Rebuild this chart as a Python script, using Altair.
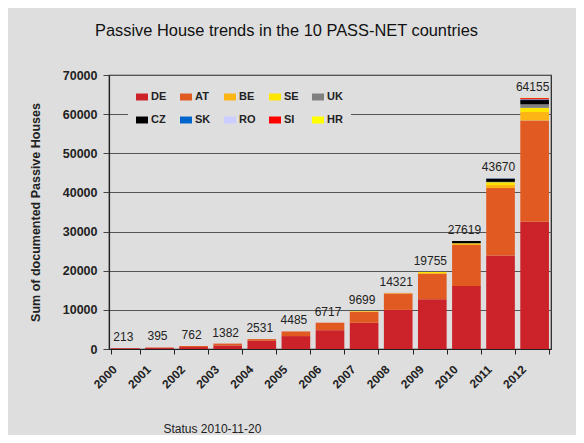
import altair as alt
import pandas as pd

years = [str(y) for y in range(2000, 2013)]
totals = [213, 395, 762, 1382, 2531, 4485, 6717, 9699, 14321, 19755, 27619, 43670, 64155]
countries = ["DE", "AT", "BE", "SE", "UK", "CZ", "SK", "RO", "SI", "HR"]
colors = ["#cc2229", "#e05a22", "#fdb515", "#ffe600", "#808080",
          "#000000", "#0066cc", "#ccccff", "#ff0000", "#ffff00"]

DE = [200, 300, 500, 900, 2100, 3300, 4800, 6700, 10000, 12700, 16100, 23870, 32500]
AT = [13, 95, 262, 482, 431, 1185, 1917, 2800, 4200, 6500, 10500, 17230, 25900]
BE = [0, 0, 0, 0, 0, 0, 0, 150, 60, 200, 300, 800, 2150]
SE = [0, 0, 0, 0, 0, 0, 0, 49, 40, 300, 100, 700, 1050]
UK = [0, 0, 0, 0, 0, 0, 0, 0, 0, 10, 20, 100, 900]
CZ = [0, 0, 0, 0, 0, 0, 0, 0, 0, 30, 550, 750, 1100]
SK = [0, 0, 0, 0, 0, 0, 0, 0, 0, 5, 30, 150, 150]
RO = [0, 0, 0, 0, 0, 0, 0, 0, 0, 0, 5, 20, 50]
SI = [0, 0, 0, 0, 0, 0, 0, 0, 21, 5, 10, 30, 300]
HR = [0, 0, 0, 0, 0, 0, 0, 0, 0, 5, 4, 20, 55]

series = [DE, AT, BE, SE, UK, CZ, SK, RO, SI, HR]
y_ticks = [0, 10000, 20000, 30000, 40000, 50000, 60000, 70000]

rows = []
for ci, (c, vals) in enumerate(zip(countries, series)):
    for y, v in zip(years, vals):
        rows.append({"year": y, "country": c, "idx": ci, "value": v})
df = pd.DataFrame(rows)
tdf = pd.DataFrame({"year": years, "total": totals, "label": [str(t) for t in totals]})

FONT = "Liberation Sans"
xscale = alt.Scale(domain=years, paddingInner=0.16, paddingOuter=0.06)
yscale = alt.Scale(domain=[0, 70000])

x_axis = alt.Axis(
    title="Status 2010-11-20", titleFont=FONT, titleFontSize=12, titleFontWeight="normal",
    titleColor="#222", titleAnchor="start", titleAlign="left", titleBaseline="middle",
    titleX=54, titleY=79,
    labelAngle=-45, labelAlign="right", labelBaseline="middle", labelFont=FONT,
    labelFontSize=12, labelFontWeight="bold", labelColor="#222", labelPadding=13, labelOffset=-11,
    tickBand="extent", tickSize=5, tickColor="#222", domainColor="#222", domainWidth=1.2)
y_axis = alt.Axis(
    values=y_ticks, format="d", labelOverlap=False, title="Sum of documented Passive Houses",
    titleFont=FONT, titleFontSize=12.5, titleFontWeight="bold", titleColor="#222", titlePadding=20,
    labelFont=FONT, labelFontSize=12.5, labelFontWeight="bold", labelColor="#222", labelPadding=6,
    tickSize=6, tickColor="#444", domainColor="#222", domainWidth=1.2,
    grid=True, gridColor="#555", gridWidth=1.2)

bars = alt.Chart(df).mark_bar().encode(
    x=alt.X("year:N", scale=xscale, axis=x_axis),
    y=alt.Y("value:Q", stack="zero", scale=yscale, axis=y_axis),
    color=alt.Color("country:N", scale=alt.Scale(domain=countries, range=colors), legend=alt.Legend(
        title=None, orient="none", legendX=19, legendY=8, direction="horizontal", columns=5,
        symbolType="M-1,-0.58H1V0.58H-1Z", symbolSize=144, symbolStrokeWidth=0, symbolOpacity=1,
        labelFont=FONT, labelFontSize=11, labelFontWeight="bold", labelColor="#222", labelOffset=3,
        rowPadding=12, columnPadding=13, padding=8, fillColor="#dedede")),
    order=alt.Order("idx:Q", sort="ascending"),
)

labels = alt.Chart(tdf).mark_text(baseline="bottom", dy=-4, dx=-2, font=FONT, fontSize=12, color="#222").encode(
    x=alt.X("year:N", scale=xscale, axis=x_axis),
    y=alt.Y("total:Q", scale=yscale, axis=y_axis),
    text="label:N",
)

chart = alt.layer(bars, labels).properties(
    width=442, height=274,
    padding={"left": 101, "top": 67, "right": 25, "bottom": 86},
    autosize=alt.AutoSizeParams(type="none"),
    background="#dedede",
    title=alt.Title("Passive House trends in the 10 PASS-NET countries", anchor="start", frame="group",
                    dx=-14, offset=30, font=FONT, fontSize=16.4, fontWeight="normal", color="#111"),
).configure_view(stroke="#222", strokeWidth=1.2)

chart.save("out.html", embed_options={"renderer": "svg", "actions": False})
